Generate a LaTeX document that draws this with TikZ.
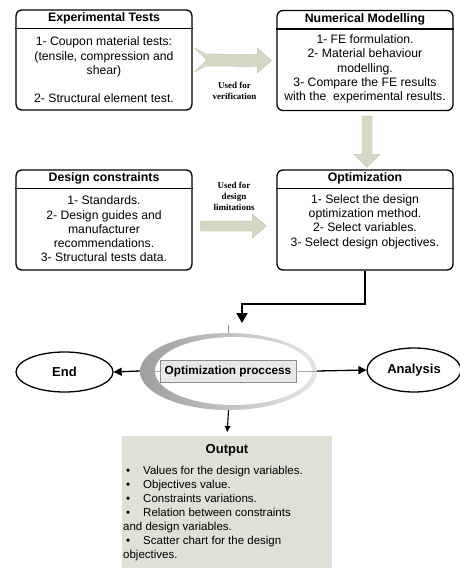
\documentclass[tikz,border=0pt]{standalone}
\usepackage{fontspec}
\setmainfont{Liberation Sans}
\newfontfamily\lblfont{Liberation Serif}
\usetikzlibrary{calc,arrows.meta,shapes.geometric}
\definecolor{arrowfill}{HTML}{D4D9C4}
\definecolor{arrowedge}{HTML}{BFC4AE}
\definecolor{outfill}{HTML}{E0E0D6}
\begin{document}
\begin{tikzpicture}[x=1pt,y=-1pt,
  box/.style={draw=black,line width=1.3pt,rounded corners=6pt,minimum width=176pt,minimum height=100pt,inner sep=0pt},
  headtxt/.style={font=\fontsize{12.3}{14}\selectfont\bfseries,inner sep=0pt,anchor=base},
  bodytxt/.style={font=\fontsize{12.2}{14.3}\selectfont,align=center,inner sep=0pt},
  lbl/.style={font=\lblfont\fontsize{9}{11}\selectfont\bfseries,align=center,inner sep=0pt},
  blockarrow/.style={fill=arrowfill,draw=arrowedge,line width=0.4pt},
  conn/.style={line width=1.3pt,-{Triangle[length=8pt,width=8pt]}},
  bigconn/.style={line width=2pt,-{Triangle[length=10pt,width=11pt]}},
  oval/.style={draw=black,line width=1.3pt,ellipse,inner sep=0pt,font=\fontsize{13}{15}\selectfont\bfseries}
]
\useasboundingbox (0,0) rectangle (460,568);
\fill[white] (0,0) rectangle (460,568);

% boxes
\node[box] (exp) at (104,60) {};
\node[box] (num) at (365,60.5) {};
\node[box] (des) at (104,220) {};
\node[box] (opt) at (365,220) {};
\foreach \b in {exp,num,des,opt}
  \draw[line width=1.3pt] ($(\b.north west)+(0,19)$) -- ($(\b.north east)+(0,19)$);

\node[headtxt] (exph) at ($(exp.north)+(0,12.5)$) {Experimental Tests};
\node[headtxt] (numh) at ($(num.north)+(0,12.5)$) {Numerical Modelling};
\node[headtxt] (desh) at ($(des.north)+(0,12.5)$) {Design constraints};
\node[headtxt] (opth) at ($(opt.north)+(0,12.5)$) {Optimization};

\node[bodytxt] (expb) at (104,70) {1- Coupon material tests:\\(tensile, compression and\\shear)\\[14.3pt]2- Structural element test.};
\node[bodytxt] (numb) at (365,69) {1- FE formulation.\\2- Material behaviour\\modelling.\\3- Compare the FE results\\with the\ \ experimental results.};
\node[bodytxt] (desb) at (104,229) {1- Standards.\\2- Design guides and\\manufacturer\\recommendations.\\3- Structural tests data.};
\node[bodytxt] (optb) at (365,221.5) {1- Select the design\\optimization method.\\2- Select variables.\\3- Select design objectives.};

% block arrows
\filldraw[blockarrow] ($(exp.east)+(2,-12)$) -- ($(exp.east)+(13,-6)$) -- ($(num.west)+(-19,-6)$) -- ($(num.west)+(-19,-12.5)$) -- ($(num.west)+(-5,0)$) -- ($(num.west)+(-19,12.5)$) -- ($(num.west)+(-19,6)$) -- ($(exp.east)+(13,6)$) -- ($(exp.east)+(2,12)$) -- ($(exp.east)+(14,0)$) -- cycle;
\filldraw[blockarrow] ($(des.east)+(8,1)$) -- ($(opt.west)+(-24,1)$) -- ($(opt.west)+(-24,-6)$) -- ($(opt.west)+(-10,6)$) -- ($(opt.west)+(-24,18)$) -- ($(opt.west)+(-24,11)$) -- ($(des.east)+(8,11)$) -- cycle;
\filldraw[blockarrow] ($(num.south)+(-3,5)$) -- ($(opt.north)+(-3,-15)$) -- ($(opt.north)+(-11,-15)$) -- ($(opt.north)+(2,-2)$) -- ($(opt.north)+(15,-15)$) -- ($(opt.north)+(7,-15)$) -- ($(num.south)+(7,5)$) -- cycle;

\node[lbl] (l1) at (234.5,91) {Used for\\verification};
\node[lbl] (l2) at (234,196) {Used for\\design\\limitations};

% optimization process ring
\node[ellipse,minimum width=177pt,minimum height=77pt,inner sep=0pt,left color=black!38,right color=black!10] (ring) at (228.5,371.5) {};
\node[ellipse,fill=white,minimum width=157pt,minimum height=68pt,inner sep=0pt] (ringin) at (233.5,371) {};
\node[draw=black!45,fill=black!9,line width=0.5pt,minimum width=136pt,minimum height=22pt,inner sep=0pt,font=\fontsize{11.8}{13}\selectfont\bfseries] (proc) at (228,371) {Optimization proccess};
\draw[black!35,line width=0.6pt] (proc.west) -- (proc.west -| ring.west);
\draw[black!35,line width=0.6pt] (proc.east) -- (proc.east -| ring.east);
\draw[black!45,line width=0.5pt] (ring.north) -- ++(0,-8);

\coordinate (opin) at (242,323);
\draw[bigconn] (opt.south) -- ++(0,33) -| (opin);

\node[oval,minimum width=97pt,minimum height=40pt] (endn) at (64.5,372) {End};
\node[oval,minimum width=94pt,minimum height=44pt] (ana) at (414,370) {Analysis};
\draw[conn] (proc.west -| ring.west) -- (endn.east);
\draw[conn] (proc.east -| ring.east) -- (ana.west);

% output
\node[fill=outfill,minimum width=210pt,minimum height=132pt,inner sep=0pt,anchor=north] (out) at (227,436) {};
\draw[line width=1.1pt,-{Triangle[length=6pt,width=5.5pt]},shorten >=4pt] (ring.south) -- (out.north);
\node[font=\fontsize{13}{15}\selectfont\bfseries,inner sep=0pt] (outh) at (227,450) {Output};
\node[font=\fontsize{11.5}{14}\selectfont,align=left,inner sep=0pt,anchor=west] (outb) at (123,514) {%
\makebox[20pt][l]{\hspace{3pt}\textbullet}Values for the design variables.\\
\makebox[20pt][l]{\hspace{3pt}\textbullet}Objectives value.\\
\makebox[20pt][l]{\hspace{3pt}\textbullet}Constraints variations.\\
\makebox[20pt][l]{\hspace{3pt}\textbullet}Relation between constraints\\
and design variables.\\
\makebox[20pt][l]{\hspace{3pt}\textbullet}Scatter chart for the design\\
objectives.};
\end{tikzpicture}
\end{document}
